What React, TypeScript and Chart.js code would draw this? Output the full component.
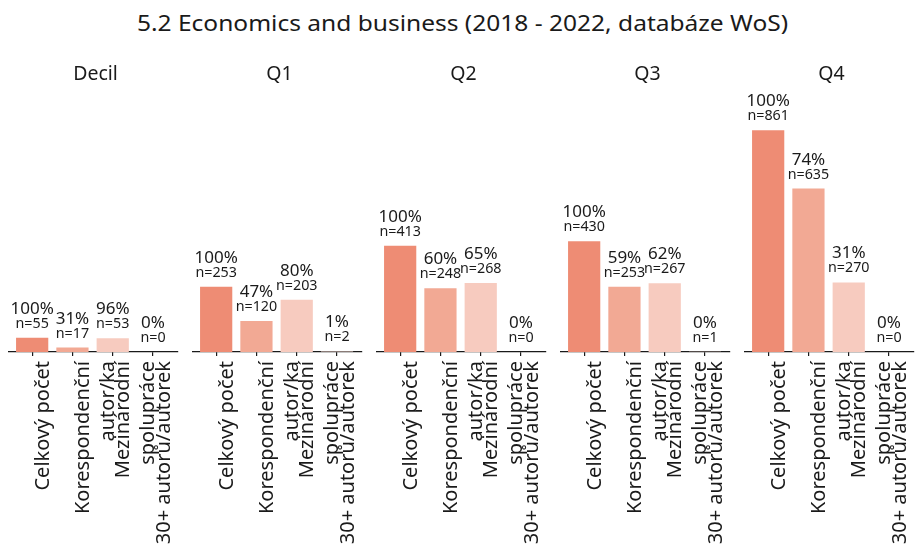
import React, { useEffect, useRef } from "react";
import { Chart, registerables } from "chart.js";

Chart.register(...registerables);

const mainTitle = "5.2 Economics and business (2018 - 2022, databáze WoS)";
const panelTitles = ["Decil", "Q1", "Q2", "Q3", "Q4"];
const categories: string[][] = [
  ["Celkový počet"],
  ["Korespondenční", "autor/ka"],
  ["Mezinárodní", "spolupráce"],
  ["30+ autorů/autorek"],
];

const countsDecil = [55, 17, 53, 0];
const countsQ1 = [253, 120, 203, 2];
const countsQ2 = [413, 248, 268, 0];
const countsQ3 = [430, 253, 267, 1];
const countsQ4 = [861, 635, 270, 0];

const pctDecil = ["100%", "31%", "96%", "0%"];
const pctQ1 = ["100%", "47%", "80%", "1%"];
const pctQ2 = ["100%", "60%", "65%", "0%"];
const pctQ3 = ["100%", "59%", "62%", "0%"];
const pctQ4 = ["100%", "74%", "31%", "0%"];

const panelCounts = [countsDecil, countsQ1, countsQ2, countsQ3, countsQ4];
const panelPcts = [pctDecil, pctQ1, pctQ2, pctQ3, pctQ4];

const barColors = ["#EE8C74", "#F2A994", "#F7CBBF", "#FADCD3"];
const textColor = "#1a1a1a";
const axisColor = "#1a1a1a";
const FONT = "'Noto Sans', 'Open Sans', sans-serif";
const YMAX = 1016;

const PANEL_LEFT = 8;
const PANEL_PITCH = 184;
const PANEL_W = 175;
const PANEL_TOP = 60;
const PANEL_H = 486;

function Panel({ idx }: { idx: number }) {
  const ref = useRef<HTMLCanvasElement | null>(null);

  useEffect(() => {
    const counts = panelCounts[idx];
    const pcts = panelPcts[idx];

    const labelPlugin = {
      id: "barLabels" + idx,
      afterDatasetsDraw(chart: any) {
        const ctx = chart.ctx;
        const meta = chart.getDatasetMeta(0);
        ctx.save();
        ctx.fillStyle = textColor;
        ctx.textAlign = "center";
        ctx.textBaseline = "alphabetic";
        meta.data.forEach((el: any, i: number) => {
          const x = el.x;
          const top = el.y;
          ctx.font = `14.3px ${FONT}`;
          ctx.fillText("n=" + counts[i], x, top - 10);
          ctx.font = `17px ${FONT}`;
          ctx.fillText(pcts[i], x, top - 10 - 14);
        });
        ctx.restore();
      },
    };

    const chart = new Chart(ref.current as HTMLCanvasElement, {
      type: "bar",
      data: {
        datasets: [
          {
            data: counts.map((v, i) => ({ x: i, y: v })) as any,
            backgroundColor: barColors,
            borderWidth: 0,
            barPercentage: 0.8,
            categoryPercentage: 1,
          },
        ],
      },
      options: {
        animation: false,
        responsive: false,
        maintainAspectRatio: false,
        layout: { padding: 0 },
        plugins: {
          legend: { display: false },
          tooltip: { enabled: false },
          title: {
            display: true,
            text: panelTitles[idx],
            color: textColor,
            font: { family: FONT, size: 19.5, weight: "normal" as any, lineHeight: 1.2 },
            padding: { top: 3, bottom: 4 },
          },
        },
        scales: {
          x: {
            type: "linear",
            min: -0.6,
            max: 3.6,
            offset: false,
            afterBuildTicks: (s: any) => {
              s.ticks = categories.map((_, i) => ({ value: i }));
            },
            afterFit: (s: any) => {
              s.height = 194;
            },
            grid: {
              display: true,
              drawOnChartArea: false,
              drawTicks: true,
              tickLength: 4,
              color: axisColor,
              lineWidth: 1.2,
              offset: false,
            },
            border: { display: true, color: axisColor, width: 1.2 },
            ticks: {
              autoSkip: false,
              maxRotation: 90,
              minRotation: 90,
              padding: 5,
              labelOffset: 11,
              color: textColor,
              font: { family: FONT, size: 20, lineHeight: 1.25 },
              callback: (v: any) => categories[Math.round(Number(v))] ?? "",
            },
          } as any,
          y: { display: false, min: 0, max: YMAX },
        },
      },
      plugins: [labelPlugin],
    });
    return () => chart.destroy();
  }, [idx]);

  return (
    <canvas
      ref={ref}
      width={PANEL_W}
      height={PANEL_H}
      style={{
        position: "absolute",
        left: PANEL_LEFT + idx * PANEL_PITCH,
        top: PANEL_TOP,
        width: PANEL_W,
        height: PANEL_H,
      }}
    />
  );
}

export default function App() {
  return (
    <div
      style={{
        position: "fixed",
        left: 0,
        top: 0,
        width: 917,
        height: 546,
        overflow: "hidden",
        background: "#ffffff",
        fontFamily: FONT,
      }}
    >
      <div
        style={{
          position: "absolute",
          left: 4,
          top: 10,
          width: 917,
          textAlign: "center",
          fontSize: 22.5,
          lineHeight: "26px",
          color: textColor,
          whiteSpace: "nowrap",
          transform: "scaleX(1.09)",
          transformOrigin: "458.5px 0",
        }}
      >
        {mainTitle}
      </div>
      {panelTitles.map((_, i) => (
        <Panel key={i} idx={i} />
      ))}
    </div>
  );
}
